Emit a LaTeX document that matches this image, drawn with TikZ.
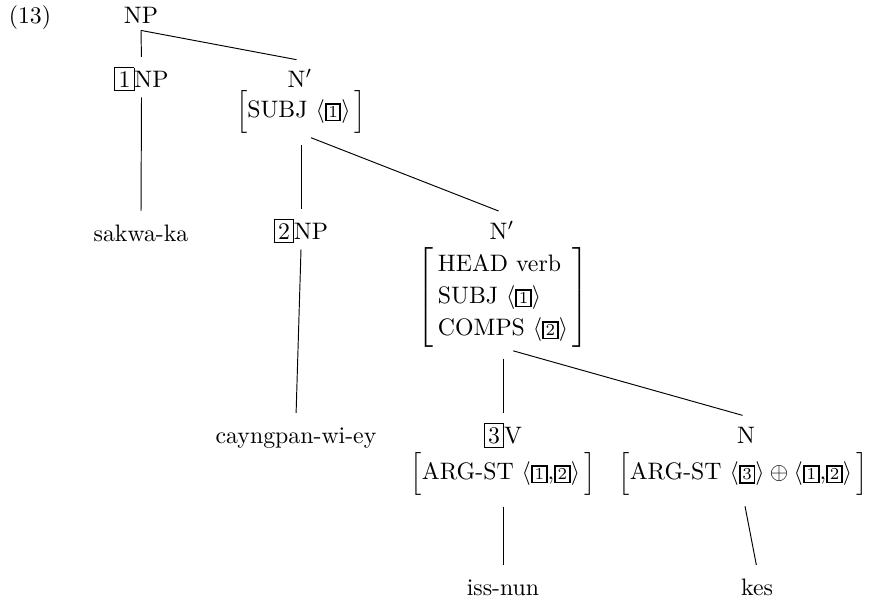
\documentclass[tikz,border=0pt]{standalone}
\usepackage{amsmath}
\newcommand{\bigtag}[1]{{\setlength{\fboxsep}{1.3pt}\fbox{#1}}}
\newcommand{\smtag}[1]{{\setlength{\fboxsep}{0.7pt}\setlength{\fboxrule}{0.8pt}\fbox{\scriptsize #1}}}
\newcommand{\avmone}[1]{$\Bigl[#1\,\Bigr]$}
\newcommand{\avmrows}[1]{{\renewcommand{\arraystretch}{1.12}$\left[\begin{array}{@{\hspace{2pt}}l@{\hspace{2pt}}}#1\end{array}\right]$}}
\begin{document}
\begin{tikzpicture}[x=0.42pt,y=-0.42pt,
		cat/.style={inner sep=2.5pt,text height=8.5pt,anchor=base},
		avm/.style={inner sep=0pt,anchor=north},
		branch/.style={shorten >=1.5pt},
		avmedge/.style={shorten <=4.5pt,shorten >=1.5pt}]
		\useasboundingbox (0,0) rectangle (872,605);
		\node[cat] (ex) at (30,24) {(13)};
		%top of the tree
		\node[cat] (np0) at (141,24) {NP};
		\node[cat] (np1) at (141.5,87) {\bigtag{1}NP};
		\node[cat] (nbar1) at (300,87) {N$'$};
		\node[avm] (avm1) at (301,90) {\avmone{\text{SUBJ }\langle\smtag{1}\rangle}};
		\node[cat] (sakwa) at (141,241) {sakwa-ka};
		\draw[branch] (np0.south) -- (np1.north);
		\draw[branch] (np0.south) -- (nbar1.north);
		\draw[branch] (np1.south) -- (sakwa.north);
		%middle
		\node[cat] (np2) at (301,239) {\bigtag{2}NP};
		\node[cat] (nbar2) at (502,239) {N$'$};
		\node[avm] (avm2) at (503,247) {\avmrows{\text{HEAD verb}\\ \text{SUBJ }\langle\smtag{1}\rangle\\ \text{COMPS }\langle\smtag{2}\rangle}};
		\node[cat] (cayng) at (296,443) {cayngpan-wi-ey};
		\draw[avmedge] (avm1.south) -- (np2.north);
		\draw[avmedge] (avm1.south) -- (nbar2.north);
		\draw[branch] (np2.south) -- (cayng.north);
		%bottom
		\node[cat] (v3) at (503,443) {\bigtag{3}V};
		\node[avm] (avm3) at (503,452) {\avmone{\text{ARG-ST }\langle\smtag{1}{,}\smtag{2}\rangle}};
		\node[cat] (n) at (746,443) {N};
		\node[avm] (avm4) at (743,452) {\avmone{\text{ARG-ST }\langle\smtag{3}\rangle\oplus\langle\smtag{1}{,}\smtag{2}\rangle}};
		\node[cat] (issnun) at (503,595) {iss-nun};
		\node[cat] (kes) at (757,595) {kes};
		\draw[avmedge] (avm2.south) -- (v3.north);
		\draw[avmedge] (avm2.south) -- (n.north);
		\draw[avmedge] (avm3.south) -- (issnun.north);
		\draw[avmedge] (avm4.south) -- (kes.north);
\end{tikzpicture}
\end{document}
